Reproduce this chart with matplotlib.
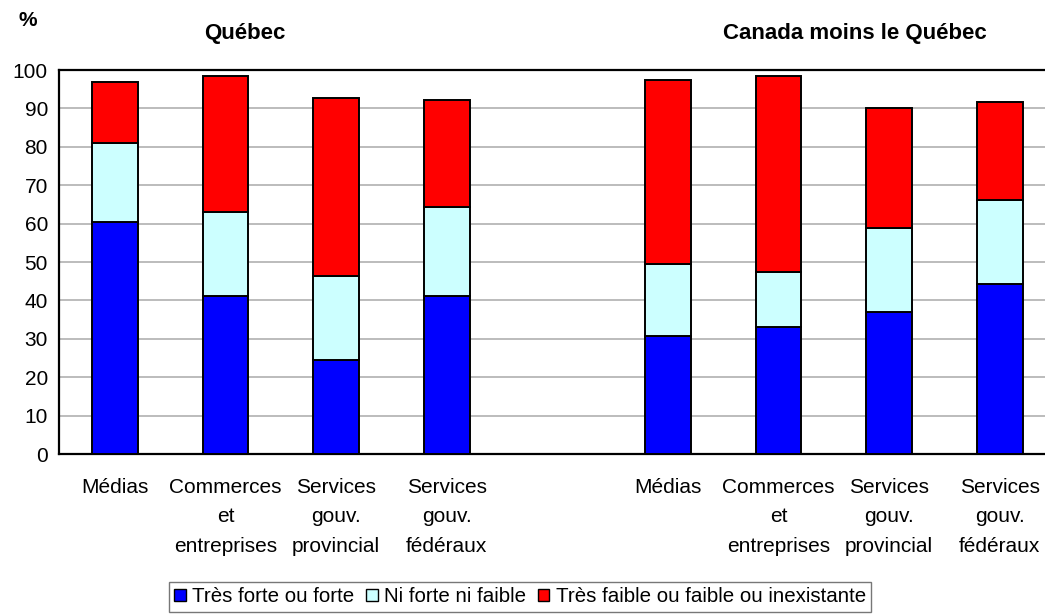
import matplotlib
matplotlib.use("Agg")
import matplotlib.pyplot as plt
from matplotlib.patches import Patch

plt.rcParams['font.family'] = ['Liberation Sans', 'DejaVu Sans']

categories = ["Médias", "Commerces\net\nentreprises", "Services\ngouv.\nprovincial", "Services\ngouv.\nfédéraux"]
regions = ["Québec", "Canada moins le Québec"]
series_names = ["Très forte ou forte", "Ni forte ni faible", "Très faible ou faible ou inexistante"]

quebec_forte = [60.3, 41.1, 24.6, 41.1]
quebec_ni = [20.8, 21.9, 21.8, 23.3]
quebec_faible = [15.8, 35.4, 46.2, 27.7]

# Canada moins le Québec
canada_forte = [30.7, 33.2, 37.0, 44.3]
canada_ni = [18.7, 14.1, 21.9, 21.8]
canada_faible = [48.0, 51.2, 31.2, 25.5]

colors = ["#0000FF", "#CCFFFF", "#FF0000"]

fig = plt.figure(figsize=(10.45, 6.15), dpi=100)
ax = fig.add_axes([59/1045, 1 - 454/615, 1 - 59/1045, (454 - 70)/615])

pos_q = [0, 1, 2, 3]
pos_c = [5, 6, 7, 8]
w = 0.415
for pos, data in [(pos_q, (quebec_forte, quebec_ni, quebec_faible)),
                  (pos_c, (canada_forte, canada_ni, canada_faible))]:
    bottom = [0] * 4
    for vals, col in zip(data, colors):
        ax.bar(pos, vals, width=w, bottom=bottom, color=col, edgecolor="black",
               linewidth=1.4, zorder=3)
        bottom = [b + v for b, v in zip(bottom, vals)]

ax.set_xlim(-0.506, 8.41)
ax.set_ylim(0, 100)
ax.set_yticks(range(0, 101, 10))
ax.yaxis.grid(True, color="#b0b0b0", linewidth=1.2, zorder=0)
ax.set_axisbelow(True)
ax.tick_params(axis='y', length=0, pad=8, labelsize=15)
ax.tick_params(axis='x', length=0, pad=17, labelsize=15)
ax.set_xticks(pos_q + pos_c)
ax.set_xticklabels(categories + categories, linespacing=1.7, va='top')
for s in ["left", "top", "bottom"]:
    ax.spines[s].set_linewidth(1.6)
    ax.spines[s].set_color("black")
ax.spines["right"].set_visible(False)

fig.text(28/1045, 1 - 20/615, "%", ha='center', va='center', fontsize=15, fontweight='bold')
fig.text(245/1045, 1 - 33/615, regions[0], ha='center', va='center', fontsize=16, fontweight='bold')
fig.text(855/1045, 1 - 33/615, regions[1], ha='center', va='center', fontsize=16, fontweight='bold')

handles = [Patch(facecolor=c, edgecolor="black", linewidth=1.0) for c in colors]
leg = fig.legend(handles, series_names, loc='center', bbox_to_anchor=(520/1045, 1 - 597/615),
                 ncol=3, fontsize=14.8, frameon=True, fancybox=False, edgecolor="#555555",
                 handlelength=0.55, handleheight=0.55, handletextpad=0.3, columnspacing=0.6,
                 borderpad=0.25, borderaxespad=0)
leg.get_frame().set_linewidth(1.0)

fig.savefig("out.png", dpi=100)
